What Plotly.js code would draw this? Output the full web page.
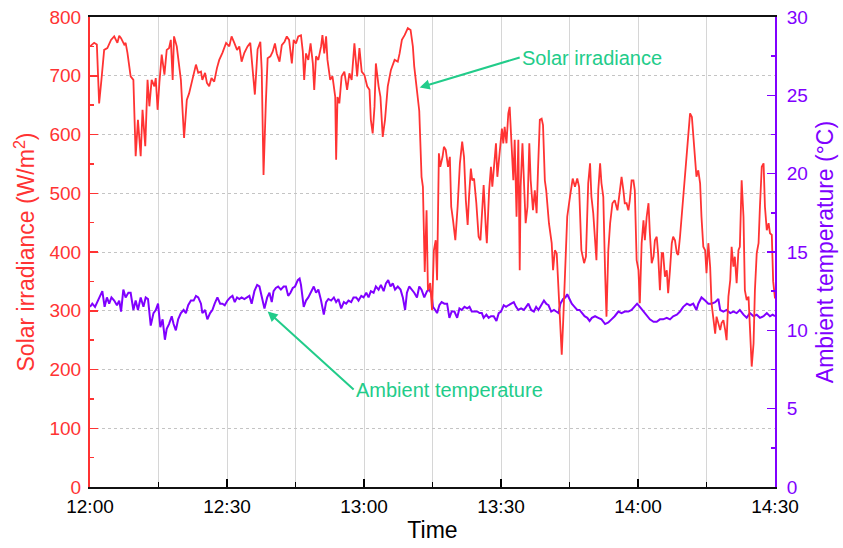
<!DOCTYPE html>
<html>
<head>
<meta charset="utf-8">
<script src="https://cdn.plot.ly/plotly-3.0.1.min.js"></script>
<style>
  html, body { margin: 0; padding: 0; background: #fff; }
  #chart { width: 843px; height: 548px; }
</style>
</head>
<body>
<div id="chart"></div>
<script>
// Minutes after 12:00 for each irradiance sample
const irrMinutes = [
  0.0, 0.9, 1.5, 2.0, 2.5, 3.1, 3.8, 4.6, 5.3, 6.0, 6.4, 6.8, 7.5, 7.8, 8.2, 8.9, 9.5, 10.0, 10.5, 11.1,
  11.5, 12.1, 12.6, 13.0, 13.5, 14.1, 14.4, 14.8, 15.2, 15.7, 16.3, 16.8, 17.3, 17.7, 18.1, 18.4, 19.0, 19.9, 20.6, 21.2,
  21.7, 22.5, 23.2, 23.7, 24.3, 24.6, 25.2, 25.6, 26.1, 26.6, 27.2, 27.8, 28.3, 29.0, 29.8, 30.5, 31.0, 31.6, 32.2, 32.7,
  33.2, 33.8, 34.5, 35.1, 35.6, 36.1, 36.7, 37.3, 37.6, 38.0, 38.5, 38.9, 39.5, 40.0, 40.5, 40.9, 41.5, 42.0, 42.6, 43.1,
  43.6, 44.2, 44.6, 45.1, 45.6, 46.2, 46.6, 46.9, 47.3, 47.8, 48.3, 48.8, 49.1, 49.5, 50.0, 50.6, 50.9, 51.3, 51.7, 52.0,
  52.6, 53.1, 53.7, 53.9, 54.2, 54.6, 55.1, 55.7, 56.3, 56.8, 57.3, 57.9, 58.5, 59.0, 59.5, 60.1, 60.7, 61.2, 61.5, 61.9,
  62.3, 62.6, 63.2, 63.6, 64.1, 64.6, 65.2, 65.9, 66.7, 67.4, 67.8, 68.3, 68.9, 69.6, 70.2, 70.7, 71.0, 71.6, 72.1, 72.6,
  72.9, 73.3, 73.7, 74.0, 74.5, 74.9, 75.3, 75.7, 76.0, 76.4, 76.7, 77.2, 77.5, 77.9, 78.4, 78.8, 79.1, 79.5, 80.0, 80.5,
  81.0, 81.5, 81.9, 82.3, 82.7, 83.0, 83.4, 83.7, 84.1, 84.6, 85.1, 85.5, 85.9, 86.2, 86.7, 86.9, 87.4, 87.8, 88.1, 88.4,
  88.9, 89.2, 89.5, 89.9, 90.2, 90.5, 90.8, 91.2, 91.6, 91.9, 92.3, 92.7, 93.0, 93.4, 93.8, 94.1, 94.3, 94.7, 95.1, 95.4,
  95.8, 96.2, 96.5, 97.0, 97.4, 97.8, 98.1, 98.5, 98.9, 99.2, 99.6, 99.9, 100.5, 101.1, 101.4, 101.8, 102.2, 102.5, 102.9, 103.3,
  103.6, 104.0, 104.5, 105.1, 105.7, 106.2, 106.7, 107.1, 107.6, 108.2, 108.6, 109.1, 109.5, 109.8, 110.2, 110.6, 110.9, 111.3, 111.7, 112.0,
  112.4, 112.8, 113.1, 113.5, 113.9, 114.4, 114.9, 115.5, 115.9, 116.4, 116.8, 117.1, 117.5, 117.9, 118.2, 118.6, 119.0, 119.3, 119.7, 120.1,
  120.4, 120.8, 121.2, 121.5, 121.9, 122.3, 122.6, 123.0, 123.4, 123.7, 124.1, 124.4, 124.8, 125.2, 125.5, 125.9, 126.3, 126.6, 127.0, 127.4,
  127.7, 128.1, 128.5, 128.8, 129.2, 129.6, 129.9, 130.3, 130.7, 131.0, 131.4, 131.8, 132.1, 132.5, 132.8, 133.2, 133.6, 133.9, 134.3, 134.7,
  135.0, 135.4, 135.8, 136.1, 136.5, 136.9, 137.2, 137.6, 138.0, 138.3, 138.7, 139.1, 139.4, 139.8, 140.2, 140.5, 140.9, 141.2, 141.6, 142.0,
  142.3, 142.7, 143.1, 143.4, 143.8, 144.2, 144.5, 144.9, 145.3, 145.6, 146.0, 146.4, 146.7, 147.1, 147.5, 147.8, 148.2, 148.6, 148.9, 149.3,
  149.6, 150.0
];

// Solar irradiance, W/m²
const irradiance = [
  750, 756, 753, 653, 693, 744, 747, 761, 767, 756, 768, 764, 753, 756, 739, 699, 693, 563, 625, 563,
  642, 580, 693, 648, 693, 682, 696, 642, 688, 736, 702, 744, 747, 761, 693, 767, 750, 693, 594, 659,
  670, 699, 719, 705, 707, 693, 705, 688, 682, 696, 690, 713, 727, 739, 756, 750, 767, 756, 744, 750,
  724, 739, 750, 756, 710, 668, 745, 758, 710, 531, 653, 730, 733, 741, 755, 738, 724, 752, 758, 767,
  761, 721, 761, 755, 767, 769, 741, 693, 738, 727, 755, 721, 676, 733, 727, 750, 769, 738, 767, 727,
  693, 699, 664, 557, 664, 653, 699, 707, 676, 704, 693, 755, 699, 747, 707, 701, 682, 676, 625, 602,
  647, 721, 682, 664, 596, 625, 682, 710, 727, 724, 738, 761, 769, 781, 778, 750, 716, 670, 640, 528,
  511, 366, 471, 335, 347, 301, 403, 420, 352, 568, 545, 562, 579, 574, 545, 562, 477, 454, 420, 477,
  551, 588, 562, 488, 446, 494, 542, 522, 525, 483, 426, 420, 477, 514, 437, 415, 505, 545, 511, 545,
  585, 528, 557, 585, 610, 585, 613, 585, 636, 647, 579, 522, 591, 460, 591, 369, 511, 585, 505, 449,
  477, 585, 522, 471, 505, 466, 539, 625, 627, 616, 522, 505, 449, 415, 369, 403, 398, 347, 279, 225,
  279, 358, 460, 494, 525, 511, 525, 511, 403, 381, 392, 517, 551, 494, 466, 420, 386, 505, 551, 517,
  494, 364, 290, 403, 449, 483, 488, 471, 494, 528, 505, 483, 483, 471, 488, 522, 522, 505, 386, 369,
  313, 415, 454, 420, 460, 483, 432, 381, 392, 420, 426, 398, 335, 398, 398, 358, 369, 330, 369, 415,
  426, 420, 398, 395, 426, 466, 494, 534, 574, 602, 636, 630, 596, 562, 528, 539, 517, 460, 409, 403,
  364, 415, 375, 313, 290, 261, 290, 279, 267, 279, 284, 267, 250, 324, 352, 409, 375, 392, 347, 403,
  409, 522, 460, 335, 318, 324, 279, 205, 244, 335, 398, 415, 477, 545, 551, 477, 437, 449, 432, 429,
  350, 321
];

// Minutes after 12:00 for each temperature sample
const tempMinutes = [
  0.0, 0.5, 1.1, 1.6, 2.2, 2.7, 3.2, 3.7, 4.2, 4.7, 5.3, 5.9, 6.4, 6.8, 7.3, 7.8, 8.4, 8.9, 9.5, 10.0,
  10.5, 11.1, 11.7, 12.2, 12.7, 13.3, 13.9, 14.4, 14.9, 15.4, 15.9, 16.4, 16.8, 17.3, 17.9, 18.3, 18.8, 19.3, 19.9, 20.5,
  21.0, 21.5, 22.1, 22.7, 23.2, 23.7, 24.3, 24.6, 25.2, 25.7, 26.3, 26.8, 27.3, 27.9, 28.5, 29.0, 29.5, 30.1, 30.7, 31.2,
  31.7, 32.2, 32.7, 33.2, 33.8, 34.4, 34.9, 35.4, 36.0, 36.6, 37.1, 37.8, 38.2, 38.8, 39.3, 39.8, 40.2, 40.7, 41.2, 41.8,
  42.4, 42.9, 43.4, 43.9, 44.4, 44.9, 45.5, 45.9, 46.2, 46.8, 47.3, 47.8, 48.4, 49.0, 49.5, 50.0, 50.6, 51.2, 51.7, 52.2,
  52.8, 53.4, 53.9, 54.4, 55.0, 55.6, 56.1, 56.6, 57.2, 57.7, 58.3, 58.8, 59.4, 59.9, 60.5, 61.0, 61.5, 62.1, 62.6, 63.2,
  63.7, 64.3, 64.8, 65.3, 65.8, 66.3, 66.8, 67.4, 68.0, 68.5, 69.0, 69.4, 69.9, 70.5, 71.0, 71.6, 72.1, 72.6, 73.2, 73.8,
  74.3, 74.8, 75.1, 75.6, 76.0, 76.5, 77.0, 77.6, 78.2, 78.7, 79.2, 79.8, 80.4, 80.9, 81.4, 82.0, 82.6, 83.1, 83.6, 84.2,
  84.8, 85.3, 85.8, 86.2, 86.8, 87.3, 87.8, 88.4, 89.0, 89.5, 90.0, 90.6, 91.1, 91.6, 92.2, 92.8, 93.3, 93.8, 94.4, 95.0,
  95.5, 96.0, 96.6, 97.2, 97.7, 98.2, 98.8, 99.4, 99.9, 100.4, 101.0, 101.6, 102.1, 102.6, 103.0, 103.6, 104.1, 104.5, 105.0, 105.5,
  106.1, 106.7, 107.2, 107.7, 108.3, 108.9, 109.4, 109.9, 110.6, 111.3, 112.0, 112.8, 113.5, 114.2, 114.9, 115.7, 116.4, 117.1, 117.9, 118.6,
  119.3, 119.8, 120.4, 121.2, 121.9, 122.6, 123.4, 124.1, 124.8, 125.5, 126.3, 127.0, 127.7, 128.5, 129.2, 129.9, 130.7, 131.4, 132.1, 132.8,
  133.2, 133.9, 134.7, 135.4, 136.1, 136.9, 137.6, 138.0, 138.7, 139.4, 140.2, 140.9, 141.6, 142.3, 143.1, 143.8, 144.5, 145.3, 146.0, 146.7,
  147.5, 148.2, 148.9, 149.5, 150.0
];

// Ambient temperature, °C
const temperature = [
  11.5, 11.7, 11.5, 11.8, 12.2, 12.5, 11.5, 12.1, 11.7, 12.1, 11.9, 11.6, 11.9, 11.2, 12.6, 12.1, 12.4, 12.4, 11.3, 11.9,
  11.3, 12.1, 11.5, 12.1, 12.0, 10.3, 11.1, 11.3, 11.7, 10.2, 10.7, 9.4, 10.1, 10.4, 10.9, 10.4, 10.0, 10.7, 11.1, 11.3,
  11.1, 11.6, 11.9, 11.9, 12.2, 12.1, 11.7, 11.1, 11.3, 10.7, 11.1, 11.3, 11.7, 12.1, 11.7, 11.7, 11.6, 11.9, 12.1, 12.2,
  11.8, 12.1, 12.0, 12.1, 12.0, 12.1, 12.2, 11.7, 12.5, 12.9, 12.8, 11.9, 11.4, 12.1, 12.4, 11.8, 12.5, 12.7, 12.8, 12.6,
  12.8, 12.8, 12.2, 12.4, 12.7, 12.8, 13.2, 13.3, 12.9, 11.5, 11.9, 12.1, 12.5, 12.8, 12.4, 12.6, 11.9, 11.0, 11.8, 12.0,
  11.9, 12.1, 11.8, 12.0, 11.4, 11.8, 11.7, 11.9, 11.8, 12.1, 12.1, 11.9, 12.2, 12.1, 12.4, 12.1, 12.5, 12.4, 12.8, 12.6,
  12.9, 12.5, 13.0, 13.2, 12.8, 13.0, 12.6, 12.8, 12.6, 12.1, 11.3, 12.4, 12.8, 12.6, 12.4, 12.1, 12.8, 12.6, 12.1, 12.5,
  12.6, 12.3, 11.5, 11.3, 11.1, 11.6, 11.8, 11.7, 11.7, 10.8, 11.2, 11.2, 10.8, 11.4, 11.3, 11.5, 11.4, 11.5, 11.2, 11.2,
  11.2, 11.1, 11.1, 10.8, 11.0, 10.8, 10.9, 10.9, 10.6, 11.1, 11.2, 11.6, 11.5, 11.6, 11.7, 11.8, 11.5, 11.3, 11.4, 11.3,
  11.5, 11.7, 11.3, 11.2, 11.5, 11.3, 11.6, 11.9, 11.7, 11.6, 11.2, 11.3, 11.2, 11.1, 11.7, 12.0, 12.1, 12.3, 12.0, 11.7,
  11.5, 11.3, 11.3, 11.1, 10.9, 10.8, 10.6, 10.8, 10.9, 10.8, 10.7, 10.4, 10.5, 10.7, 10.9, 11.2, 11.1, 11.2, 11.2, 11.3,
  11.5, 11.7, 11.5, 11.2, 10.9, 10.7, 10.55, 10.55, 10.7, 10.7, 10.8, 10.7, 10.9, 11.0, 11.2, 11.5, 11.7, 11.6, 11.7, 11.3,
  11.7, 12.1, 11.9, 11.7, 11.7, 11.8, 12.0, 11.3, 11.2, 11.3, 11.1, 11.2, 11.1, 11.3, 11.0, 10.8, 11.1, 10.9, 11.0, 10.8,
  10.9, 11.1, 10.9, 11.0, 10.9
];

// Time axis labels
const timeTickVals = [0, 30, 60, 90, 120, 150];
const timeTickText = ['12:00', '12:30', '13:00', '13:30', '14:00', '14:30'];

const RED = '#ff3333';
const VIOLET = '#8000ff';
const GREEN = '#22cc8a';
const FONT = 'Liberation Sans, Arial, Helvetica, sans-serif';

const traces = [
  {
    x: tempMinutes, y: temperature, yaxis: 'y',
    type: 'scatter', mode: 'lines',
    line: { color: VIOLET, width: 2 },
    hoverinfo: 'skip'
  },
  {
    x: irrMinutes, y: irradiance, yaxis: 'y2',
    type: 'scatter', mode: 'lines',
    line: { color: RED, width: 1.8 },
    hoverinfo: 'skip'
  }
];

const layout = {
  width: 843,
  height: 548,
  margin: { l: 90, r: 68, t: 17, b: 61 },
  paper_bgcolor: '#ffffff',
  plot_bgcolor: '#ffffff',
  showlegend: false,
  font: { family: FONT, size: 19, color: '#000' },
  xaxis: {
    range: [0, 150],
    tickmode: 'array',
    tickvals: timeTickVals,
    ticktext: timeTickText,
    ticks: 'inside', ticklen: 8, tickwidth: 1.5, tickcolor: '#000',
    tickfont: { family: FONT, size: 19, color: '#000' },
    ticklabelstandoff: 1,
    showline: true, linecolor: '#111', linewidth: 2, mirror: true,
    showgrid: true, gridcolor: '#d6d6d6', gridwidth: 1,
    minor: { tickmode: 'linear', tick0: 0, dtick: 15, ticks: 'inside', ticklen: 5, tickwidth: 1.5, tickcolor: '#000',
             showgrid: true, gridcolor: '#d6d6d6', gridwidth: 1 },
    zeroline: false,
    title: { text: 'Time', font: { family: FONT, size: 23, color: '#000' }, standoff: 6 }
  },
  yaxis: {
    side: 'right',
    range: [0, 30],
    tickmode: 'linear', tick0: 0, dtick: 5,
    ticks: 'inside', ticklen: 8, tickwidth: 1.5, tickcolor: VIOLET,
    tickfont: { family: FONT, size: 19, color: VIOLET },
    ticklabelstandoff: 6,
    showline: true, linecolor: VIOLET, linewidth: 2,
    showgrid: false, zeroline: false,
    minor: { tickmode: 'linear', tick0: 0, dtick: 2.5, ticks: 'inside', ticklen: 4, tickwidth: 1.5, tickcolor: VIOLET, showgrid: false },
    title: { text: 'Ambient temperature (°C)', font: { family: FONT, size: 23, color: VIOLET }, standoff: 10 }
  },
  yaxis2: {
    overlaying: 'y',
    side: 'left',
    range: [0, 800],
    tickmode: 'linear', tick0: 0, dtick: 100,
    ticks: 'inside', ticklen: 8, tickwidth: 1.5, tickcolor: RED,
    tickfont: { family: FONT, size: 19, color: RED },
    ticklabelstandoff: 3,
    showline: true, linecolor: RED, linewidth: 2,
    showgrid: true, gridcolor: '#c4c4c4', gridwidth: 1, griddash: 'dot',
    zeroline: false,
    minor: { tickmode: 'linear', tick0: 0, dtick: 50, ticks: 'inside', ticklen: 4, tickwidth: 1.5, tickcolor: RED, showgrid: false },
    title: { text: 'Solar irradiance (W/m<sup>2</sup>)', font: { family: FONT, size: 23, color: RED }, standoff: 8 }
  },
  annotations: [
    {
      text: 'Solar irradiance',
      x: 72.2, y: 680, xref: 'x', yref: 'y2',
      ax: 100, ay: -30, axref: 'pixel', ayref: 'pixel',
      xanchor: 'left', yanchor: 'middle',
      showarrow: true, arrowhead: 2, arrowsize: 1, arrowwidth: 2, arrowcolor: GREEN,
      font: { family: FONT, size: 20, color: GREEN }
    },
    {
      text: 'Ambient temperature',
      x: 38.9, y: 11.2, xref: 'x', yref: 'y',
      ax: 86, ay: 78, axref: 'pixel', ayref: 'pixel',
      xanchor: 'left', yanchor: 'middle',
      showarrow: true, arrowhead: 2, arrowsize: 1, arrowwidth: 2, arrowcolor: GREEN,
      font: { family: FONT, size: 20, color: GREEN }
    }
  ]
};

Plotly.newPlot('chart', traces, layout, { staticPlot: true, displayModeBar: false });
</script>
</body>
</html>
